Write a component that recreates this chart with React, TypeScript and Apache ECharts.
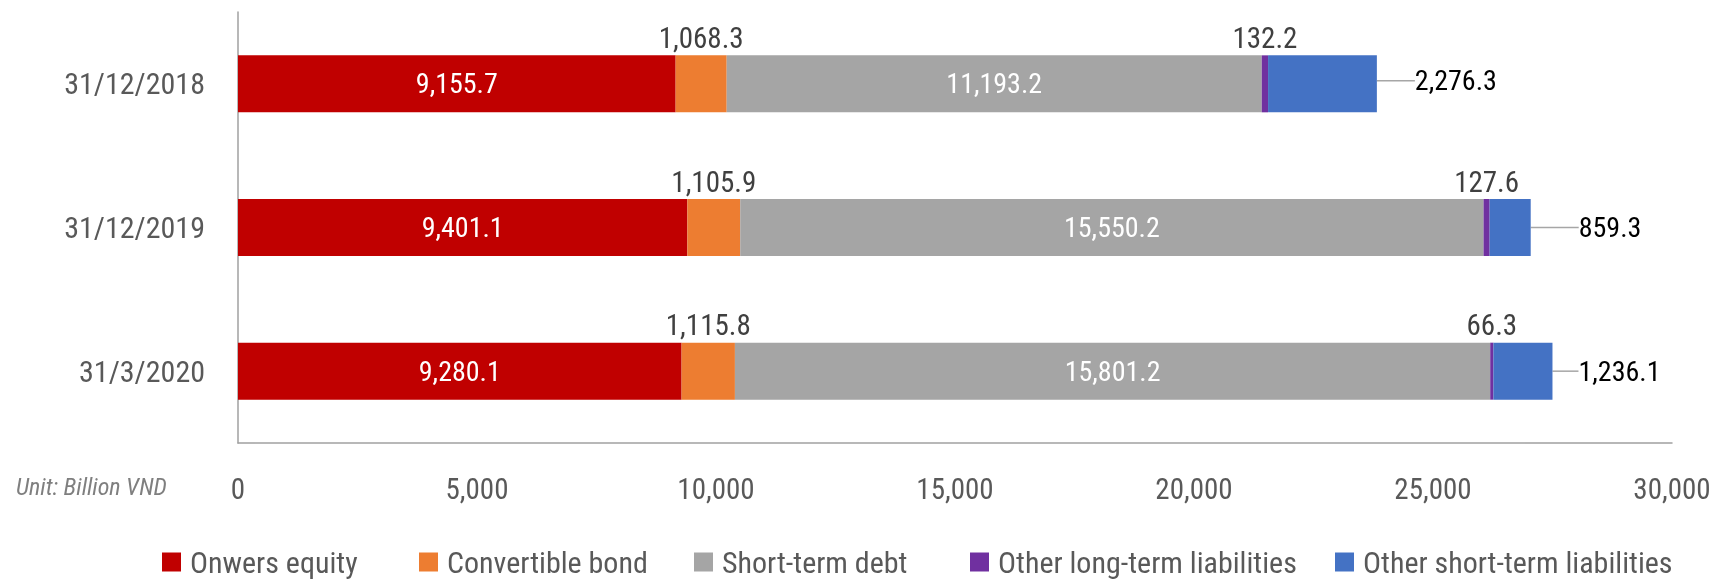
import React, { useEffect, useRef } from "react";
import * as echarts from "echarts";

const categories = ["31/12/2018", "31/12/2019", "31/3/2020"];
const ownersEquity = [9155.7, 9401.1, 9280.1];
const convertibleBond = [1068.3, 1105.9, 1115.8];
const shortTermDebt = [11193.2, 15550.2, 15801.2];
const otherLongTerm = [132.2, 127.6, 66.3];
const otherShortTerm = [2276.3, 859.3, 1236.1];
const seriesNames = [
  "Onwers equity",
  "Convertible bond",
  "Short-term debt",
  "Other long-term liabilities",
  "Other short-term liabilities",
];
const seriesColors = ["#C00000", "#ED7D31", "#A5A5A5", "#7030A0", "#4472C4"];
const unitText = "Unit: Billion VND";

const FONT = "'Liberation Sans Narrow', 'Roboto Condensed', 'Arial Narrow', Roboto, sans-serif";
const fmt1 = (v: number) =>
  v.toLocaleString("en-US", { minimumFractionDigits: 1, maximumFractionDigits: 1 });

const legendLefts = [162, 419, 694, 970, 1335];
const rightLabelDx = [30, 40, 18];
const rightLabelDy = [-3, 0, 0];

export default function App() {
  const ref = useRef<HTMLDivElement>(null);
  useEffect(() => {
    document.body.style.margin = "0";
    const chart = echarts.init(ref.current!, null, { renderer: "svg" });
    const baseBar = {
      type: "bar",
      stack: "total",
      barWidth: 57,
      emphasis: { disabled: true },
    };
    const valueLabel = (extra: any) => ({
      show: true,
      fontFamily: FONT,
      formatter: (p: any) => fmt1(p.value),
      ...extra,
    });
    chart.setOption({
      animation: false,
      textStyle: { fontFamily: FONT },
      grid: { left: 238, right: 48, top: 12, bottom: 136, containLabel: false },
      legend: seriesNames.map((n, i) => ({
        data: [n],
        top: 547,
        left: legendLefts[i],
        itemWidth: 19,
        itemHeight: 19,
        icon: "rect",
        padding: 0,
        textStyle: {
          fontFamily: FONT,
          fontSize: 30,
          lineHeight: 30,
          color: "#595959",
          padding: [0, 0, 0, 4],
        },
      })),
      xAxis: {
        type: "value",
        min: 0,
        max: 30000,
        interval: 5000,
        axisLine: { show: true, lineStyle: { color: "#a0a0a0", width: 1.5 } },
        axisTick: { show: false },
        splitLine: { show: false },
        axisLabel: {
          margin: 31,
          fontSize: 29,
          color: "#595959",
          fontFamily: FONT,
          formatter: (v: number) => v.toLocaleString("en-US"),
        },
      },
      yAxis: {
        type: "category",
        data: categories,
        inverse: true,
        axisLine: { show: true, lineStyle: { color: "#a0a0a0", width: 1.5 } },
        axisTick: { show: false },
        axisLabel: { margin: 33, fontSize: 30, color: "#595959", fontFamily: FONT },
      },
      graphic: [
        {
          type: "text",
          left: 16,
          top: 475,
          style: {
            text: unitText,
            fontFamily: FONT,
            fontStyle: "italic",
            fontSize: 24,
            fill: "#7f7f7f",
          },
        },
      ],
      series: [
        {
          ...baseBar,
          name: seriesNames[0],
          data: ownersEquity,
          itemStyle: { color: seriesColors[0] },
          label: valueLabel({ position: "inside", color: "#ffffff", fontSize: 28 }),
        },
        {
          ...baseBar,
          name: seriesNames[1],
          data: convertibleBond,
          itemStyle: { color: seriesColors[1] },
          label: valueLabel({ position: "top", distance: 3, color: "#404040", fontSize: 29 }),
        },
        {
          ...baseBar,
          name: seriesNames[2],
          data: shortTermDebt,
          itemStyle: { color: seriesColors[2] },
          label: valueLabel({ position: "inside", color: "#ffffff", fontSize: 28 }),
        },
        {
          ...baseBar,
          name: seriesNames[3],
          data: otherLongTerm,
          itemStyle: { color: seriesColors[3] },
          label: valueLabel({ position: "top", distance: 3, color: "#404040", fontSize: 29 }),
        },
        {
          ...baseBar,
          name: seriesNames[4],
          data: otherShortTerm,
          itemStyle: { color: seriesColors[4] },
          label: valueLabel({ position: "right", distance: 8, color: "#000000", fontSize: 28 }),
          labelLayout: (p: any) => ({
            dx: rightLabelDx[p.dataIndex],
            dy: rightLabelDy[p.dataIndex],
          }),
          labelLine: {
            show: true,
            lineStyle: { color: "#a6a6a6", width: 1.5 },
          },
        },
      ],
    });
    return () => chart.dispose();
  }, []);
  return (
    <div
      ref={ref}
      style={{ position: "fixed", left: 0, top: 0, width: 1720, height: 579 }}
    />
  );
}
